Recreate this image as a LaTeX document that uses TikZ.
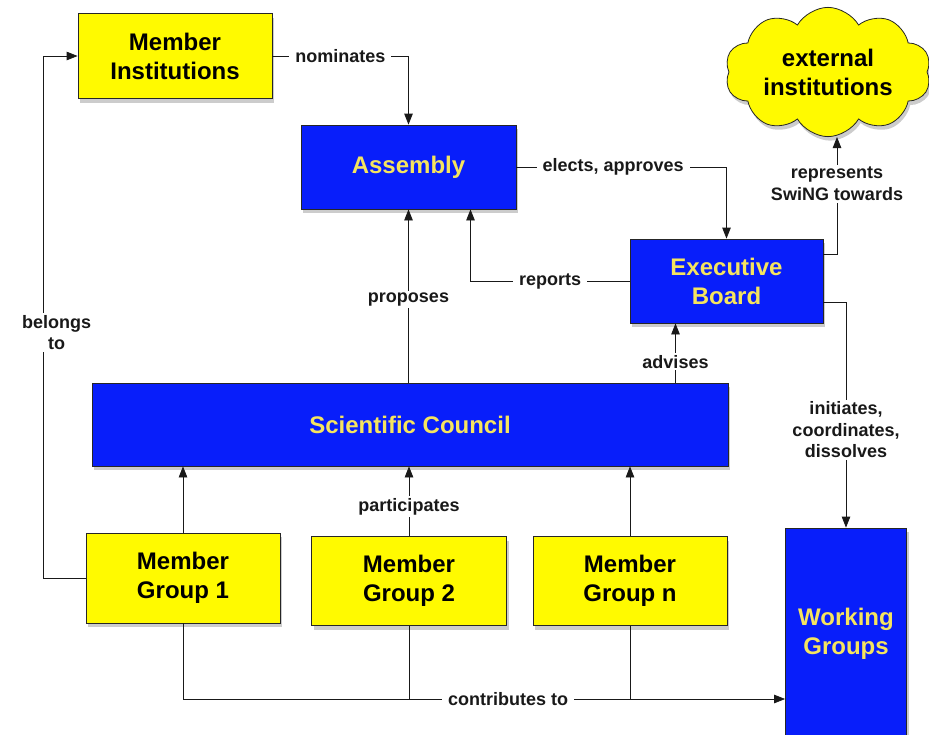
\documentclass[tikz,border=0pt]{standalone}
\usepackage{fontspec}
\setmainfont{Liberation Sans}
\usetikzlibrary{arrows.meta,shapes.symbols,shadows}
\definecolor{boxblue}{RGB}{8,30,250}
\definecolor{boxyellow}{RGB}{255,250,0}
\definecolor{txtyellow}{RGB}{245,228,95}
\begin{document}
\begin{tikzpicture}[x=1pt,y=-1pt,
  base/.style={draw=black!85, line width=0.8pt, inner sep=0pt, align=center,
    font=\fontsize{24}{29}\selectfont\bfseries,
    drop shadow={shadow xshift=2pt, shadow yshift=-4pt, opacity=0.4}},
  ybox/.style={base, fill=boxyellow, text=black},
  bbox/.style={base, fill=boxblue, text=txtyellow},
  lbl/.style={fill=white, inner xsep=6pt, inner ysep=2pt, text=black!90, align=center,
    font=\fontsize{18}{21.5}\selectfont\bfseries},
  arr/.style={draw=black!90, line width=0.8pt, -{Triangle[length=11pt,width=8.5pt]}},
  ln/.style={draw=black!90, line width=0.8pt}]
\fill[white] (0,0) rectangle (929,734);
\useasboundingbox (0,0) rectangle (929,734);

\node[ybox, minimum width=194pt, minimum height=85pt] (mi) at (175,56) {Member\\Institutions};
\node[bbox, minimum width=215pt, minimum height=84pt] (as) at (408.5,167) {Assembly};
\node[bbox, minimum width=193pt, minimum height=84pt] (eb) at (726.5,281) {Executive\\Board};
\node[cloud, cloud puffs=10, cloud puff arc=120, aspect=1.8, draw=black!85, line width=0.8pt,
  fill=boxyellow, minimum width=206pt, minimum height=114pt, inner sep=0pt, align=center,
  font=\fontsize{24}{29}\selectfont\bfseries,
  drop shadow={shadow xshift=2pt, shadow yshift=-4pt, opacity=0.4}] (cl) at (828,72) {external\\institutions};
\node[bbox, minimum width=636pt, minimum height=83pt] (sc) at (410,424.5) {Scientific Council};
\node[ybox, minimum width=194pt, minimum height=90pt] (mg1) at (183,578) {Member\\Group 1};
\node[ybox, minimum width=195pt, minimum height=89pt] (mg2) at (409,581) {Member\\Group 2};
\node[ybox, minimum width=194pt, minimum height=89pt] (mgn) at (630,581) {Member\\Group n};
\node[bbox, minimum width=121pt, minimum height=212pt] (wg) at (846,634) {Working\\Groups};

% nominates
\draw[arr] (mi.east) -| node[lbl, pos=0.25] {nominates} (as.north);
% elects, approves
\draw[arr] (as.east) -| node[lbl, pos=0.23] {elects, approves} (eb.north);
% reports
\draw[arr] (eb.west) -| node[lbl, pos=0.25] {reports} ([xshift=62pt]as.south);
% proposes
\draw[arr] (as.south |- sc.north) -- node[lbl, pos=0.48] {proposes} (as.south);
% advises
\draw[arr] ([xshift=-51pt]eb.south |- sc.north) -- node[lbl, pos=0.35] {advises} ([xshift=-51pt]eb.south);
% represents
\draw[arr] ([yshift=27pt]eb.east) -| node[lbl, pos=0.8] {represents\\SwiNG towards} ([xshift=9pt]cl.south);
% initiates
\draw[arr] ([yshift=-21pt]eb.east) -| node[lbl, pos=0.783] {initiates,\\coordinates,\\dissolves} (wg.north);
% belongs to
\draw[arr] (mg1.west) -- ++(-42,0) |- node[lbl, pos=0.235, xshift=13pt] {belongs\\to} (mi.west);
% participates
\draw[arr] (mg1.north) -- (mg1.north |- sc.south);
\draw[arr] (mg2.north) -- node[lbl, pos=0.42] {participates} (mg2.north |- sc.south);
\draw[arr] (mgn.north) -- (mgn.north |- sc.south);
% contributes to
\coordinate (ct) at ([yshift=-65pt]wg.west);
\draw[ln] (mg2.south) -- (mg2.south |- ct);
\draw[ln] (mgn.south) -- (mgn.south |- ct);
\draw[arr] (mg1.south) |- node[lbl, pos=0.77] {contributes to} (ct);
\end{tikzpicture}
\end{document}
